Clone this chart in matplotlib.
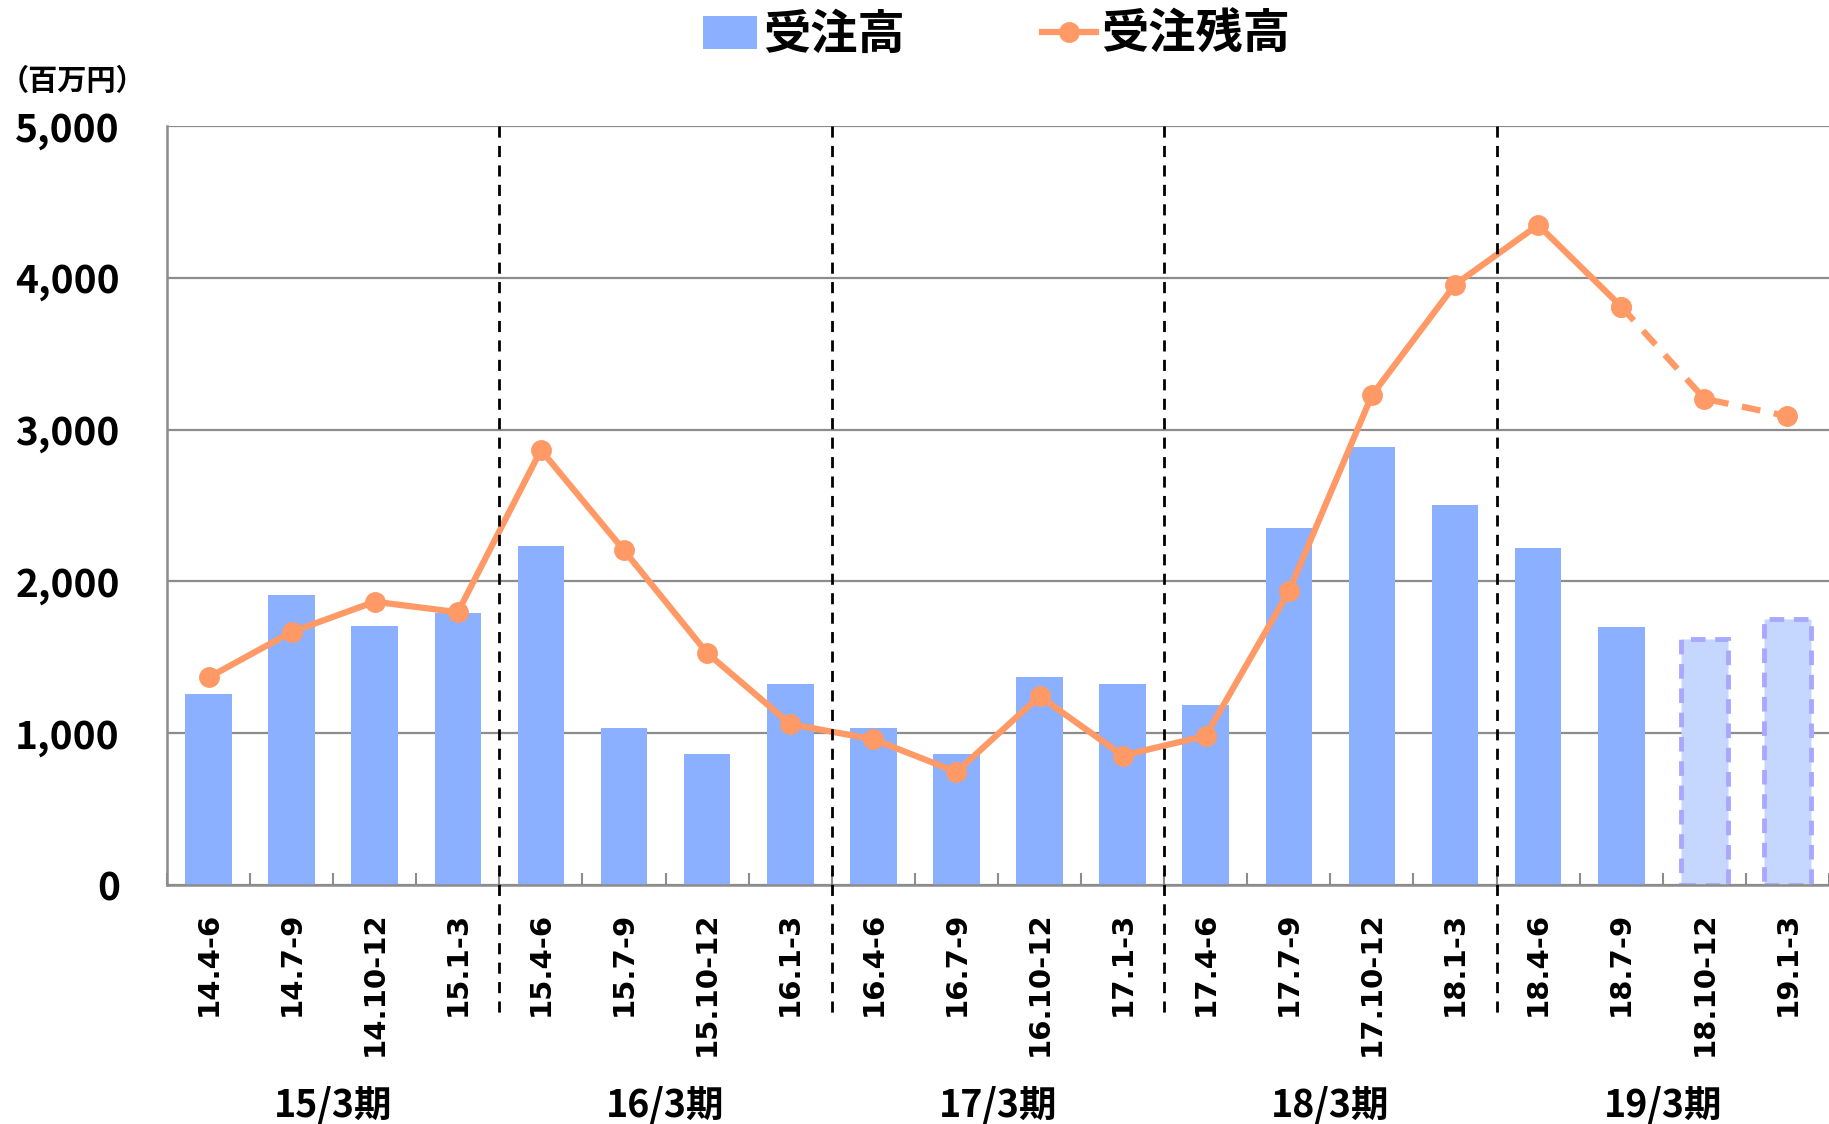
import numpy as np
import matplotlib.pyplot as plt
from matplotlib.patches import Patch
from matplotlib.lines import Line2D
from matplotlib.ticker import FuncFormatter, MultipleLocator
import matplotlib.transforms as mtransforms

plt.rcParams['font.family'] = ['Noto Sans CJK JP', 'DejaVu Sans']
plt.rcParams['font.weight'] = 'bold'

quarters = ['14.4-6', '14.7-9', '14.10-12', '15.1-3',
            '15.4-6', '15.7-9', '15.10-12', '16.1-3',
            '16.4-6', '16.7-9', '16.10-12', '17.1-3',
            '17.4-6', '17.7-9', '17.10-12', '18.1-3',
            '18.4-6', '18.7-9', '18.10-12', '19.1-3']
periods = ['15/3期', '16/3期', '17/3期', '18/3期', '19/3期']

orders = [1260, 1912, 1705, 1790, 2235, 1037, 860, 1321, 1037, 860,
          1367, 1321, 1183, 2350, 2888, 2504, 2220, 1697, 1620, 1751]
backlog = [1367, 1667, 1866, 1797, 2865, 2204, 1528, 1060, 960, 745,
           1244, 853, 983, 1935, 3226, 3955, 4347, 3810, 3203, 3088]
n_forecast = 2  # last two quarters are plan values

bar_color = '#8AB0FF'
fc_fill = '#C5D7FF'
fc_edge = '#A8A8FF'
line_color = '#FF9966'

fig = plt.figure(figsize=(18.29, 11.24), dpi=100)
ax = fig.add_axes([0.0913, 0.2126, 0.9087, 0.6754])

x = np.arange(len(quarters))
n_act = len(quarters) - n_forecast

ax.bar(x[:n_act], orders[:n_act], width=0.56, color=bar_color, zorder=2)
ax.bar(x[n_act:], orders[n_act:], width=0.56, color=fc_fill, edgecolor=fc_edge,
       linewidth=3.5, linestyle=(0, (3, 2)), zorder=2)

ax.plot(x[:n_act], backlog[:n_act], color=line_color, lw=4.5, marker='o',
        ms=14, zorder=4)
ax.plot(x[n_act - 1:], backlog[n_act - 1:], color=line_color, lw=4.5,
        ls=(0, (3, 2.2)), marker='o', ms=14, zorder=4)

ax.set_xlim(-0.5, len(quarters) - 0.5)
ax.set_ylim(0, 5000)
ax.yaxis.set_major_locator(MultipleLocator(1000))
ax.yaxis.set_major_formatter(FuncFormatter(lambda v, p: f'{int(v):,}'))
ax.grid(axis='y', color='#8C8C8C', lw=1.6, zorder=0)
ax.set_axisbelow(True)

for s in ['top', 'right']:
    ax.spines[s].set_visible(False)
for s in ['left', 'bottom']:
    ax.spines[s].set_color('#8C8C8C')
    ax.spines[s].set_linewidth(1.8)

ax.set_xticks(x)
ax.set_xticklabels(quarters, rotation=90, va='top')
for lab in ax.get_xticklabels():
    lab.set_fontfamily('DejaVu Sans')
    lab.set_fontsize(21)
    lab.set_fontweight('bold')
ax.set_xticks(np.arange(-0.5, len(quarters), 1), minor=True)
ax.tick_params(axis='x', which='major', length=0, pad=19)
ax.tick_params(axis='x', which='minor', direction='in', length=9,
               color='#8C8C8C', width=1.5)
ax.tick_params(axis='y', length=0, pad=34, labelsize=28)
for lab in ax.get_yticklabels():
    lab.set_fontweight('bold')

# period separators
trans = mtransforms.blended_transform_factory(ax.transData, ax.transAxes)
for b in [3.5, 7.5, 11.5, 15.5]:
    ax.plot([b, b], [1.0, -0.172], transform=trans, color='black', lw=2,
            ls=(0, (4, 3)), clip_on=False, zorder=5)

for i, p in enumerate(periods):
    ax.text(i * 4 + 1.5, -0.29, p, transform=trans, ha='center', va='center',
            fontsize=27, fontweight='bold')

fig.text(0.0, 0.928, '（百万円）', fontsize=21, fontweight='bold',
         ha='left', va='center')

handles = [Patch(facecolor=bar_color, edgecolor='none'),
           Line2D([], [], color=line_color, lw=4.5, marker='o', ms=14)]
fig.legend(handles, ['受注高', '受注残高'], loc='center',
           bbox_to_anchor=(0.545, 0.969), ncol=2, frameon=False,
           prop={'size': 34, 'weight': 'bold'}, handlelength=1.15,
           handletextpad=0.12, columnspacing=2.9, borderpad=0)

fig.savefig('out.png', dpi=100)
